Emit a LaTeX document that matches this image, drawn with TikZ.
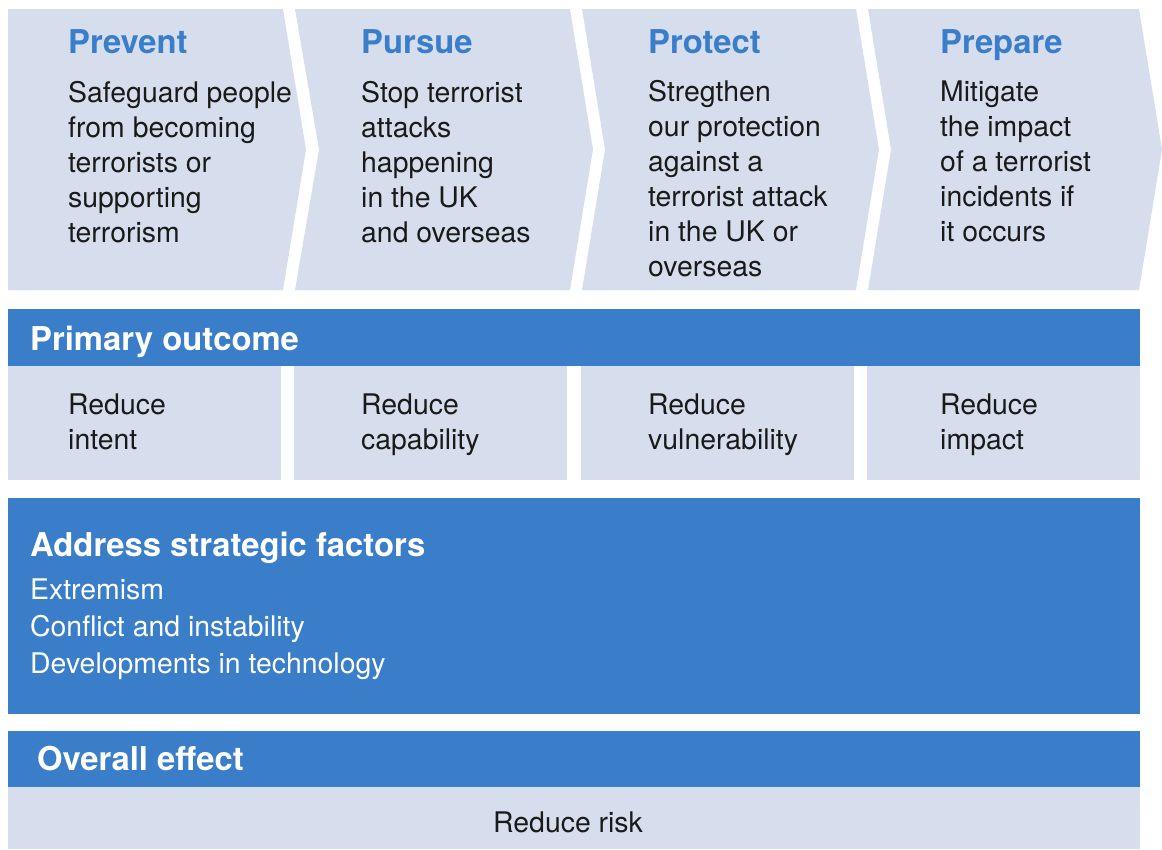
\documentclass[tikz,border=0pt]{standalone}
\usepackage{fontspec}
\setmainfont{TeX Gyre Heros}
\usepackage{xcolor}
\definecolor{paleblue}{RGB}{214,222,238}
\definecolor{midblue}{RGB}{58,126,202}
\definecolor{inkgray}{RGB}{26,26,26}
\newcommand\bodysize{\fontsize{28.4}{35}\selectfont}
\newcommand\headsize{\fontsize{32.8}{38}\selectfont\bfseries}

\begin{document}
\begin{tikzpicture}[x=1pt,y=-1pt,
    pale/.style={fill=paleblue},
    band/.style={fill=midblue},
    head/.style={anchor=base west, inner sep=0pt, text=midblue, font=\headsize},
    bandhead/.style={anchor=base west, inner sep=0pt, text=white, font=\headsize},
    body/.style={anchor=base west, inner sep=0pt, align=left, text=inkgray, font=\bodysize}]
	\useasboundingbox (0,0) rectangle (1162,849);
	% chevrons
	\fill[pale] (8,9) -- (283,9) -- (306,149.5) -- (283,290) -- (8,290) -- cycle;
	\fill[pale] (295,9) -- (570,9) -- (593,149.5) -- (570,290) -- (295,290) -- (319,149.5) -- cycle;
	\fill[pale] (582,9) -- (856,9) -- (879,149.5) -- (856,290) -- (582,290) -- (605,149.5) -- cycle;
	\fill[pale] (868,9) -- (1139,9) -- (1162,149.5) -- (1139,290) -- (868,290) -- (891,149.5) -- cycle;
	% bands and boxes
	\fill[band] (8,309) rectangle (1140,366);
	\fill[pale] (8,366) rectangle (281,480);
	\fill[pale] (294,366) rectangle (567,480);
	\fill[pale] (581,366) rectangle (854,480);
	\fill[pale] (867,366) rectangle (1140,480);
	\fill[band] (8,498) rectangle (1140,714);
	\fill[band] (8,731) rectangle (1140,787);
	\fill[pale] (8,787) rectangle (1140,849);

	\node[head] (prevent) at (68,53) {Prevent};
	\node[head] (pursue) at (361,53) {Pursue};
	\node[head] (protect) at (648,53) {Protect};
	\node[head] (prepare) at (940,53) {Prepare};

	% multi-line nodes sit on the baseline of their last line
	\node[body] (preventtxt) at (68,242) {Safeguard people\\from becoming\\terrorists or\\supporting\\terrorism};
	\node[body] (pursuetxt) at (361,242) {Stop terrorist\\attacks\\happening\\in the UK\\and overseas};
	\node[body] (protecttxt) at (648,276) {Stregthen\\our protection\\against a\\terrorist attack\\in the UK or\\overseas};
	\node[body] (preparetxt) at (940,241) {Mitigate\\the impact\\of a terrorist\\incidents if\\it occurs};

	\node[bandhead] (primary) at (30,350) {Primary outcome};
	\node[body] (intent) at (68,449) {Reduce\\intent};
	\node[body] (capability) at (361,449) {Reduce\\capability};
	\node[body] (vulnerability) at (648,449) {Reduce\\vulnerability};
	\node[body] (impact) at (940,449) {Reduce\\impact};

	\node[bandhead] (factors) at (30,556) {Address strategic factors};
	\node[body, text=white, font=\fontsize{28.4}{37}\selectfont] (factorlist) at (30,673) {Extremism\\Conflict and instability\\Developments in technology};

	\node[bandhead] (overall) at (37,770) {Overall effect};
	\node[body, anchor=base] (risk) at (568,832) {Reduce risk};
\end{tikzpicture}
\end{document}
